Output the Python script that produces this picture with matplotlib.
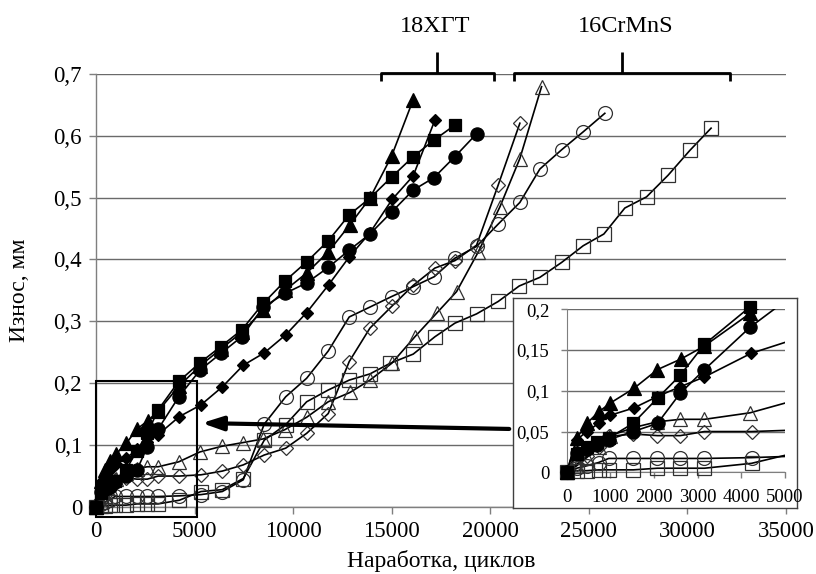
import matplotlib
matplotlib.use('Agg')
import matplotlib.pyplot as plt
from matplotlib.lines import Line2D
from matplotlib.patches import Rectangle, FancyArrowPatch
import numpy as np

plt.rcParams['font.family'] = ['Liberation Serif', 'DejaVu Serif']

# ---------------- data ----------------
# 18ХГТ (filled markers)
tri_f_x = [0, 231, 460, 730, 1000, 1540, 2078, 2617, 3155, 4200, 5274, 6323, 7389, 8484, 9584, 10685, 11780, 12880, 13895, 14995, 16090]
tri_f_y = [0, 0.042, 0.060, 0.074, 0.085, 0.103, 0.126, 0.139, 0.155, 0.195, 0.228, 0.255, 0.282, 0.318, 0.350, 0.378, 0.412, 0.456, 0.499, 0.567, 0.658]

sq_f_x = [0, 230, 460, 700, 960, 1520, 2080, 2600, 3155, 4200, 5274, 6323, 7389, 8484, 9584, 10685, 11780, 12845, 13895, 14995, 16090, 17155, 18205]
sq_f_y = [0, 0.023, 0.031, 0.037, 0.042, 0.060, 0.091, 0.119, 0.157, 0.203, 0.233, 0.259, 0.286, 0.329, 0.365, 0.396, 0.430, 0.472, 0.499, 0.533, 0.566, 0.593, 0.617]

dia_f_x = [0, 231, 460, 730, 1000, 1540, 2078, 2600, 3155, 4224, 5325, 6405, 7470, 8535, 9620, 10685, 11800, 12845, 13895, 15025, 16090, 17190]
dia_f_y = [0, 0.040, 0.050, 0.060, 0.070, 0.079, 0.093, 0.105, 0.117, 0.146, 0.165, 0.194, 0.229, 0.249, 0.278, 0.314, 0.359, 0.404, 0.443, 0.497, 0.535, 0.625]

cir_f_x = [0, 230, 460, 700, 960, 1520, 2080, 2600, 3155, 4200, 5274, 6323, 7389, 8484, 9584, 10685, 11780, 12845, 13895, 15010, 16090, 17140, 18205, 19305]
cir_f_y = [0, 0.024, 0.029, 0.033, 0.040, 0.050, 0.060, 0.097, 0.126, 0.178, 0.221, 0.248, 0.275, 0.323, 0.345, 0.362, 0.387, 0.415, 0.441, 0.477, 0.512, 0.532, 0.566, 0.603]

# 16CrMnS (open markers)
tri_o_x = [0, 230, 460, 730, 1000, 1540, 2078, 2600, 3155, 4200, 5274, 6374, 7440, 8484, 9584, 10685, 11780, 12880, 13895, 14995, 16175, 17275, 18290, 19390, 20490, 21500, 22600]
tri_o_y = [0, 0.008, 0.018, 0.031, 0.045, 0.055, 0.062, 0.065, 0.065, 0.073, 0.089, 0.098, 0.104, 0.110, 0.125, 0.145, 0.170, 0.185, 0.205, 0.232, 0.275, 0.313, 0.348, 0.412, 0.485, 0.563, 0.679]

sq_o_x = [0, 230, 460, 730, 960, 1527, 2078, 2600, 3155, 4233, 5325, 6405, 7470, 8535, 9620, 10685, 11780, 12845, 13895, 14910, 16090, 17190, 18205, 19305, 20400, 21465, 22515, 23615, 24710, 25760, 26825, 27925, 29020, 30120, 31200]
sq_o_y = [0, 0.002, 0.002, 0.003, 0.003, 0.003, 0.005, 0.005, 0.005, 0.011, 0.025, 0.028, 0.046, 0.108, 0.133, 0.170, 0.189, 0.205, 0.215, 0.232, 0.247, 0.275, 0.297, 0.312, 0.332, 0.357, 0.371, 0.395, 0.422, 0.441, 0.483, 0.501, 0.536, 0.576, 0.612]

dia_o_x = [0, 230, 460, 730, 961, 1527, 2078, 2600, 3155, 4233, 5325, 6405, 7470, 8535, 9620, 10685, 11780, 12845, 13895, 14995, 16090, 17190, 18205, 19305, 20400, 21500]
dia_o_y = [0, 0.010, 0.020, 0.031, 0.044, 0.047, 0.045, 0.045, 0.050, 0.050, 0.052, 0.058, 0.068, 0.084, 0.095, 0.119, 0.151, 0.235, 0.289, 0.324, 0.358, 0.386, 0.398, 0.423, 0.520, 0.620]

cir_o_x = [0, 230, 460, 730, 961, 1527, 2078, 2600, 3155, 4233, 5325, 6405, 7470, 8535, 9620, 10685, 11780, 12845, 13895, 14995, 16090, 17155, 18205, 19305, 20400, 21500, 22515, 23615, 24710, 25810]
cir_o_y = [0, 0.005, 0.008, 0.012, 0.017, 0.017, 0.017, 0.017, 0.017, 0.018, 0.020, 0.025, 0.044, 0.134, 0.178, 0.208, 0.252, 0.307, 0.323, 0.340, 0.356, 0.372, 0.402, 0.421, 0.457, 0.492, 0.546, 0.577, 0.606, 0.636]

main_xticks = [0, 5000, 10000, 15000, 20000, 25000, 30000, 35000]
main_yticks = [0, 0.1, 0.2, 0.3, 0.4, 0.5, 0.6, 0.7]
main_ylabels = ['0', '0,1', '0,2', '0,3', '0,4', '0,5', '0,6', '0,7']
inset_xticks = [0, 1000, 2000, 3000, 4000, 5000]
inset_yticks = [0, 0.05, 0.1, 0.15, 0.2]
inset_ylabels = ['0', '0,05', '0,1', '0,15', '0,2']
group_labels = ['18ХГТ', '16CrMnS']
x_label = 'Наработка, циклов'
y_label = 'Износ, мм'

# --------------- style ---------------
series = [
    (sq_o_x, sq_o_y, 's', False, 9.5),
    (cir_o_x, cir_o_y, 'o', False, 10),
    (dia_o_x, dia_o_y, 'D', False, 7),
    (tri_o_x, tri_o_y, '^', False, 10),
    (dia_f_x, dia_f_y, 'D', True, 6.5),
    (cir_f_x, cir_f_y, 'o', True, 9.5),
    (tri_f_x, tri_f_y, '^', True, 9.5),
    (sq_f_x, sq_f_y, 's', True, 9),
]

W, H = 816, 574
fig = plt.figure(figsize=(W / 100, H / 100), dpi=100)


def fx(px):
    return px / W


def fy(py):
    return 1 - py / H


def draw(ax, xmax=None, ymax=None):
    for x, y, m, filled, ms in series:
        x = np.asarray(x, float)
        y = np.asarray(y, float)
        ax.plot(x, y, '-', color='black', lw=1.2, zorder=3)
        sel = np.ones_like(x, bool)
        if xmax is not None:
            sel &= x <= xmax
        if ymax is not None:
            sel &= y <= ymax
        ax.plot(x[sel], y[sel], linestyle='none', marker=m, ms=ms,
                mfc='black' if filled else 'none',
                mec='black' if filled else '#303030',
                mew=0.9, clip_on=False, zorder=4)


# main axes
L, R, T, B = 96, 786, 73.7, 507
AW, AH = R - L, B - T
ax = fig.add_axes([fx(L), fy(B), fx(AW), AH / H])
ax.set_xlim(0, 35000)
ax.set_ylim(0, 0.7)
draw(ax)
ax.set_xticks(main_xticks)
ax.set_xticklabels([str(v) for v in main_xticks])
ax.set_yticks(main_yticks)
ax.set_yticklabels(main_ylabels)
ax.tick_params(axis='both', direction='out', length=5, width=1, color='#7f7f7f',
               labelsize=16.5)
ax.tick_params(axis='x', pad=5)
ax.tick_params(axis='y', pad=5)
ax.grid(axis='y', color='#6a6a6a', lw=1)
ax.set_axisbelow(True)
for s in ['top', 'right']:
    ax.spines[s].set_visible(False)
for s in ['left', 'bottom']:
    ax.spines[s].set_color('#7f7f7f')
    ax.spines[s].set_linewidth(1)
ax.set_xlabel(x_label, fontsize=17)
ax.xaxis.label.set_va('center')
ax.xaxis.set_label_coords(0.5, (B - 561) / AH)
ax.set_ylabel(y_label, fontsize=17)
ax.yaxis.label.set_va('center')
ax.yaxis.set_label_coords((20 - L) / AW, (B - 290) / AH)

# zoom rectangle on main
ax.add_patch(Rectangle((0, -0.016), 5137, 0.219, fill=False, lw=1.5,
                       edgecolor='black', clip_on=False, zorder=5))

# inset frame
BL, BR, BT, BB = 512.7, 797, 298.3, 508.3
box = fig.add_axes([fx(BL), fy(BB), fx(BR - BL), (BB - BT) / H])
box.set_xticks([])
box.set_yticks([])
box.set_facecolor('white')
for s in box.spines.values():
    s.set_color('#404040')
    s.set_linewidth(1)

# inset axes
IL, IR, IT, IB = 566.7, 785, 309.3, 472.3
ins = fig.add_axes([fx(IL), fy(IB), fx(IR - IL), (IB - IT) / H])
ins.patch.set_alpha(0)
ins.set_xlim(0, 5000)
ins.set_ylim(0, 0.2)
draw(ins, xmax=5000, ymax=0.21)
ins.set_xticks(inset_xticks)
ins.set_xticklabels([str(v) for v in inset_xticks])
ins.set_yticks(inset_yticks)
ins.set_yticklabels(inset_ylabels)
ins.tick_params(axis='both', direction='out', length=4.5, width=1, color='#7f7f7f',
                labelsize=13.5)
ins.tick_params(axis='x', pad=7.5)
ins.tick_params(axis='y', pad=8)
ins.grid(axis='y', color='#6a6a6a', lw=1)
ins.set_axisbelow(True)
for s in ['top', 'right']:
    ins.spines[s].set_visible(False)
for s in ['left', 'bottom']:
    ins.spines[s].set_color('#7f7f7f')

# arrow
fig.add_artist(FancyArrowPatch((fx(512), fy(429)), (fx(199), fy(423)),
                               transform=fig.transFigure,
                               arrowstyle='-|>,head_length=0.9,head_width=0.3',
                               mutation_scale=14, lw=3, color='black'))

# brackets
def bracket(x0, x1, xc, xtext, ytext, label):
    yb, yd, yu = 72.5, 80.5, 51.5
    kw = dict(color='black', lw=2, transform=fig.transFigure, solid_capstyle='butt')
    fig.add_artist(Line2D([fx(x0), fx(x0), fx(x1), fx(x1)],
                          [fy(yd), fy(yb), fy(yb), fy(yd)], **kw))
    fig.add_artist(Line2D([fx(xc), fx(xc)], [fy(yb), fy(yu)], **kw))
    fig.text(fx(xtext), fy(ytext), label, ha='center', va='center', fontsize=17.5)


bracket(380.7, 494, 437.3, 435, 26, group_labels[0])
bracket(514, 730, 622.3, 626, 26, group_labels[1])

fig.savefig('out.png', dpi=100)
